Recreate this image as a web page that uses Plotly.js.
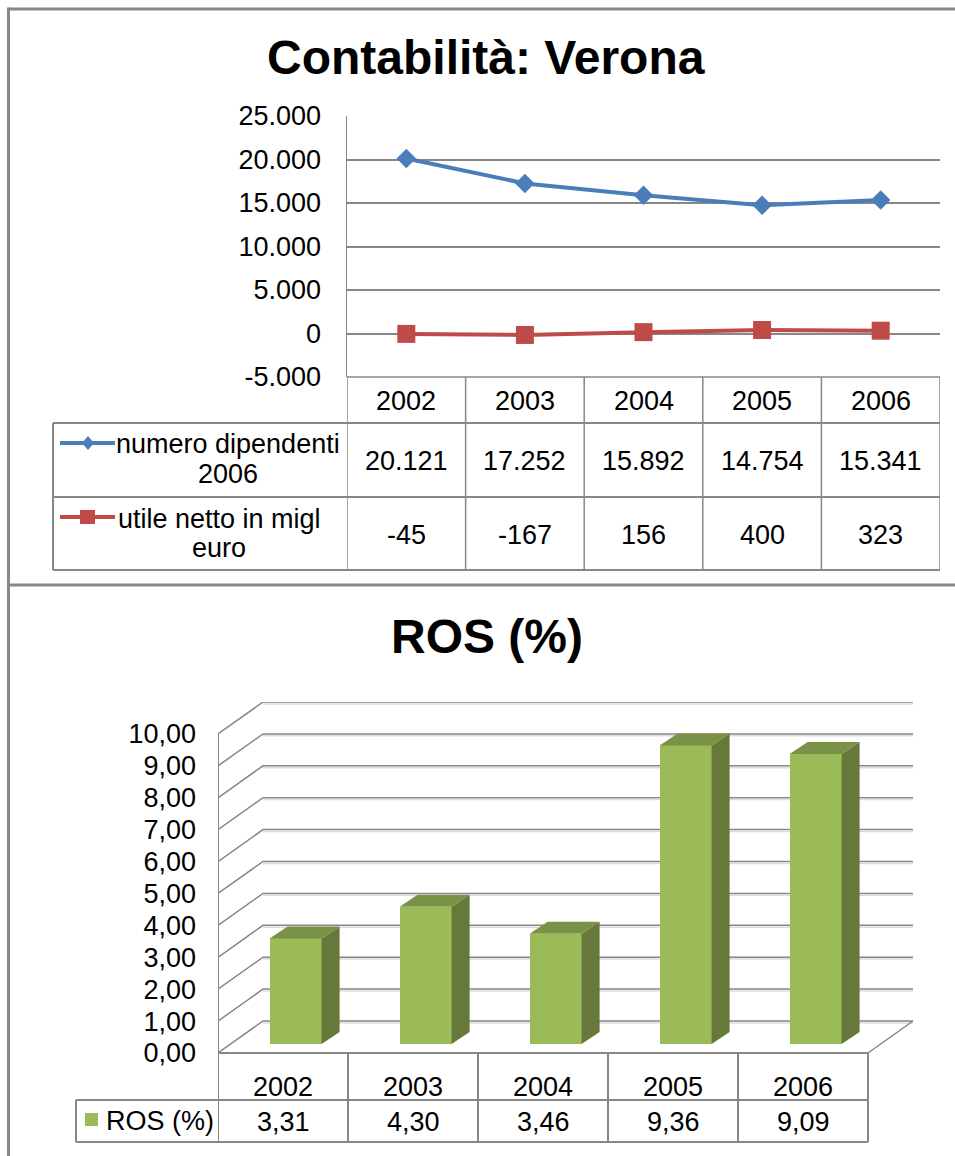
<!DOCTYPE html>
<html><head><meta charset="utf-8">
<script src="https://cdn.plot.ly/plotly-3.0.1.min.js"></script>
<style>html,body{margin:0;padding:0;background:#fff;} #chart{width:955px;height:1156px;}</style>
</head><body><div id="chart"></div>
<script>
// ---- data ----
const years = ['2002', '2003', '2004', '2005', '2006'];
const dipendenti = [20121, 17252, 15892, 14754, 15341];
const utile = [-45, -167, 156, 400, 323];
const ros = [3.31, 4.30, 3.46, 9.36, 9.09];
const topTicks = [-5000, 0, 5000, 10000, 15000, 20000, 25000];
const rosTicks = [0, 1, 2, 3, 4, 5, 6, 7, 8, 9, 10];
const nameDip = ['numero dipendenti', '2006'];
const nameUtile = ['utile netto in migl', 'euro'];
const nameRos = 'ROS (%)';
const titleTop = 'Contabilità: Verona';
const titleBottom = 'ROS (%)';

// ---- helpers ----
const W = 955, H = 1156;
const px = x => x / W;
const py = y => 1 - y / H;
function itInt(n) {
  const s = Math.abs(n).toString().replace(/\B(?=(\d{3})+(?!\d))/g, '.');
  return (n < 0 ? '-' : '') + s;
}
function itDec(n) { return n.toFixed(2).replace('.', ','); }
const idx = years.map((_, i) => i);

const GRID = '#878787';
const FONT = 'Liberation Sans, Arial, sans-serif';
const FS = 27;
const BLUE = '#4A7EBB', RED = '#BE4B48';
const G_FRONT = '#9BBB59', G_SIDE = '#67793A', G_TOP = '#7A9245';

// bottom chart 3D geometry (data units of x2/y2)
const PXCAT2 = 130, PXVAL2 = 31.9;
const DX = 45 / PXCAT2, DY = 32 / PXVAL2;   // full floor depth
const BAR_D = 0.28;                         // depth of bar front face
const BAR_W = 0.4;
const SX = 18 / PXCAT2, SY = 12 / PXVAL2;   // bar depth

const traces = [];
traces.push({
  x: idx, y: dipendenti, xaxis: 'x', yaxis: 'y', type: 'scatter', mode: 'lines+markers',
  line: {color: BLUE, width: 4}, marker: {symbol: 'diamond', size: 15, color: BLUE},
  showlegend: false, hoverinfo: 'skip'
});
traces.push({
  x: idx, y: utile, xaxis: 'x', yaxis: 'y', type: 'scatter', mode: 'lines+markers',
  line: {color: RED, width: 4}, marker: {symbol: 'square', size: 18, color: RED},
  showlegend: false, hoverinfo: 'skip'
});

// 3D bars: front faces
traces.push({
  type: 'bar', xaxis: 'x2', yaxis: 'y2',
  x: idx.map(i => i + DX * BAR_D), y: ros, base: ros.map(() => DY * BAR_D),
  width: BAR_W, marker: {color: G_FRONT, line: {width: 0}},
  showlegend: false, hoverinfo: 'skip'
});
// side & top faces
const sideX = [], sideY = [], topX = [], topY = [];
ros.forEach((v, i) => {
  const xl = i + DX * BAR_D - BAR_W / 2, xr = xl + BAR_W;
  const yb = DY * BAR_D, yt = yb + v;
  sideX.push(xr, xr + SX, xr + SX, xr, xr, null);
  sideY.push(yb, yb + SY, yt + SY, yt, yb, null);
  topX.push(xl, xr, xr + SX, xl + SX, xl, null);
  topY.push(yt, yt, yt + SY, yt + SY, yt, null);
});
traces.push({type: 'scatter', mode: 'lines', xaxis: 'x2', yaxis: 'y2', x: sideX, y: sideY,
  fill: 'toself', fillcolor: G_SIDE, line: {width: 0, color: G_SIDE}, showlegend: false, hoverinfo: 'skip'});
traces.push({type: 'scatter', mode: 'lines', xaxis: 'x2', yaxis: 'y2', x: topX, y: topY,
  fill: 'toself', fillcolor: G_TOP, line: {width: 0, color: G_TOP}, showlegend: false, hoverinfo: 'skip'});

// ---- shapes ----
const shapes = [];
const ln = (x0, y0, x1, y1, color, width) => shapes.push({
  type: 'line', xref: 'paper', yref: 'paper', x0: px(x0), y0: py(y0), x1: px(x1), y1: py(y1),
  line: {color: color || GRID, width: width || 1.5}, layer: 'above'
});
// outer frame
ln(8.5, 9, W, 9, GRID, 3);
ln(8.5, 7.5, 8.5, H, GRID, 3);
ln(8.5, 585, W, 585, GRID, 3);

// top table
ln(347, 377, 940, 377);
[423, 497, 570].forEach(y => ln(53, y, 940, y, GRID, 2));
ln(53, 423, 53, 570, GRID, 2);
for (let i = 0; i <= years.length; i++) {
  shapes.push({type: 'line', xref: 'x', yref: 'paper', x0: i - 0.5, x1: i - 0.5, y0: py(377), y1: py(570),
    line: {color: GRID, width: 1.5}});
}
// legend keys top
ln(60, 443, 115, 443, BLUE, 4);
shapes.push({type: 'path', xref: 'paper', yref: 'paper', fillcolor: BLUE, line: {width: 0},
  path: `M ${px(88)} ${py(436)} L ${px(94)} ${py(443)} L ${px(88)} ${py(450)} L ${px(82)} ${py(443)} Z`});
ln(60, 517, 115, 517, RED, 4);
shapes.push({type: 'rect', xref: 'paper', yref: 'paper', x0: px(80), x1: px(95), y0: py(510), y1: py(524),
  fillcolor: RED, line: {width: 0}});

// bottom chart: walls / grid
rosTicks.forEach(v => {
  shapes.push({type: 'path', xref: 'x2', yref: 'y2', layer: 'below',
    path: `M -0.5 ${v} L ${-0.5 + DX} ${v + DY} L ${4.5 + DX} ${v + DY}`,
    line: {color: GRID, width: 1.5}});
  shapes.push({type: 'line', xref: 'x2', yref: 'y2', layer: 'below',
    x0: -0.5 + DX, x1: 4.5 + DX, y0: v + DY - 0.06, y1: v + DY - 0.06,
    line: {color: '#dcdcdc', width: 1.5}});
});
shapes.push({type: 'path', xref: 'x2', yref: 'y2', layer: 'below',
  path: `M ${4.5 + DX} ${DY} L 4.5 0`, line: {color: GRID, width: 1.5}});
shapes.push({type: 'line', xref: 'x2', yref: 'y2', x0: -0.5, x1: -0.5, y0: 0, y1: 10,
  line: {color: GRID, width: 2}});

// bottom table
ln(218, 1053, 868, 1053, GRID, 2);
ln(76, 1100, 868, 1100, GRID, 2);
ln(76, 1142, 868, 1142, GRID, 2);
ln(76, 1100, 76, 1142, GRID, 2);
for (let i = 0; i <= years.length; i++) {
  shapes.push({type: 'line', xref: 'x2', yref: 'paper', x0: i - 0.5, x1: i - 0.5, y0: py(1053), y1: py(1142),
    line: {color: GRID, width: 2}});
}
shapes.push({type: 'rect', xref: 'paper', yref: 'paper', x0: px(85), x1: px(98), y0: py(1113), y1: py(1126),
  fillcolor: G_FRONT, line: {width: 0}});

// ---- annotations ----
const ann = [];
const txt = (text, xref, x, y, size, xanchor, extra) => ann.push(Object.assign({
  text, xref, yref: 'paper', x, y: py(y), xanchor: xanchor || 'center', yanchor: 'middle',
  showarrow: false, font: {family: FONT, size: size || FS, color: '#000'}
}, extra || {}));

txt('<b>' + titleTop + '</b>', 'paper', px(486), 57, 48);
txt('<b>' + titleBottom + '</b>', 'paper', px(487), 637, 48);

years.forEach((yr, i) => {
  txt(yr, 'x', i, 401);
  txt(itInt(dipendenti[i]), 'x', i, 461);
  txt(itInt(utile[i]), 'x', i, 535);
  txt(yr, 'x2', i, 1087);
  txt(itDec(ros[i]), 'x2', i, 1122);
});
txt(nameDip[0], 'paper', px(228), 444);
txt(nameDip[1], 'paper', px(228), 474);
txt(nameUtile[0], 'paper', px(219), 519);
txt(nameUtile[1], 'paper', px(219), 548);
txt(nameRos, 'paper', px(104), 1121, FS, 'left');

const layout = {
  width: W, height: H, margin: {l: 0, r: 0, t: 0, b: 0},
  paper_bgcolor: '#fff', plot_bgcolor: 'rgba(0,0,0,0)',
  font: {family: FONT, size: FS, color: '#000'},
  showlegend: false,
  xaxis: {domain: [px(347), px(940)], range: [-0.5, 4.5], anchor: 'y',
    showgrid: false, zeroline: false, showticklabels: false, showline: false, fixedrange: true},
  yaxis: {domain: [py(377), py(116)], range: [-5000, 25000], anchor: 'x',
    tickvals: topTicks, ticktext: topTicks.map(itInt), ticks: '', ticklabelstandoff: 19,
    showgrid: true, gridcolor: GRID, gridwidth: 2, zeroline: false,
    showline: true, linecolor: GRID, linewidth: 1.5,
    tickfont: {family: FONT, size: FS, color: '#000'}},
  xaxis2: {domain: [px(218), px(933)], range: [-0.5, 5.0], anchor: 'y2',
    showgrid: false, zeroline: false, showticklabels: false, showline: false},
  yaxis2: {domain: [py(1053 + PXVAL2), py(734 - PXVAL2)], range: [-1, 11], anchor: 'x2',
    tickvals: rosTicks, ticktext: rosTicks.map(itDec), ticks: '', ticklabelstandoff: 21,
    showgrid: false, zeroline: false, showline: false,
    tickfont: {family: FONT, size: FS, color: '#000'}},
  bargap: 0,
  shapes, annotations: ann
};
Plotly.newPlot('chart', traces, layout, {displayModeBar: false, staticPlot: true});
</script>
</body></html>
